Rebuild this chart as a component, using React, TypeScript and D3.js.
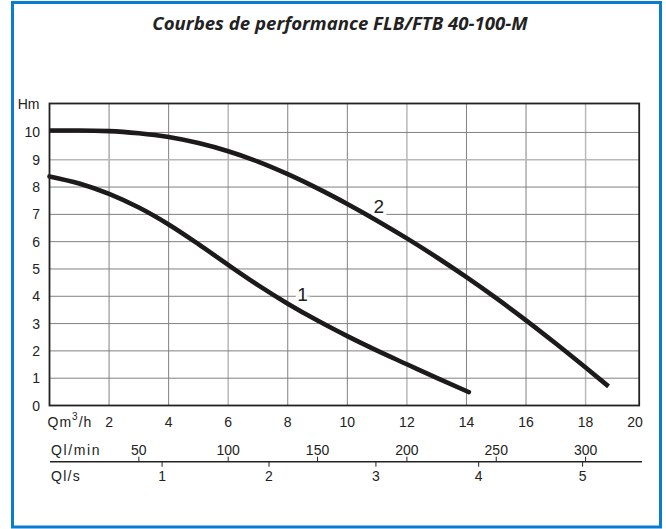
import React from "react";
import * as d3 from "d3";

// ---- data ----
const title = "Courbes de performance FLB/FTB 40-100-M";
const yTicks = [0, 1, 2, 3, 4, 5, 6, 7, 8, 9, 10];
const xTicks = [2, 4, 6, 8, 10, 12, 14, 16, 18];
const xGrid = [2, 4, 6, 8, 10, 12, 14, 16, 18];
const lightXGrid = [6, 12, 18];
const lightYGrid = [9];
const qlMinTicks = [50, 100, 150, 200, 250, 300];
const qlSecTicks = [1, 2, 3, 4, 5];
// positions (in m³/h) where the l/s ticks are drawn on the original sheet
const qlSecAtQ = [3.78, 7.37, 10.96, 14.41, 17.9];

const curve1Q = [0, 1, 2, 3, 4, 5, 6, 7, 8, 9, 10, 11, 12, 13, 14.08];
const curve1H = [8.39, 8.13, 7.75, 7.25, 6.63, 5.91, 5.15, 4.41, 3.73, 3.11, 2.54, 2.01, 1.51, 1.01, 0.49];
const curve2Q = [0, 1, 2, 3, 4, 5, 6, 7, 8, 9, 10, 11, 12, 13, 14, 15, 16, 17, 18, 18.77];
const curve2H = [10.07, 10.07, 10.05, 9.97, 9.83, 9.61, 9.31, 8.93, 8.47, 7.95, 7.38, 6.77, 6.12, 5.43, 4.7, 3.93, 3.12, 2.27, 1.39, 0.7];
const curveLabels = [
  { text: "1", q: 8.5, h: 4.09 },
  { text: "2", q: 11.06, h: 7.3 },
];

const W = 666;
const H = 529;

export default function App() {
  const x = d3.scaleLinear().domain([0, 19.8]).range([49.5, 639.2]);
  const y = d3.scaleLinear().domain([0, 11.06]).range([405.5, 103.5]);
  const line = d3
    .line<[number, number]>()
    .x((d) => x(d[0]))
    .y((d) => y(d[1]))
    .curve(d3.curveMonotoneX);
  const c1 = curve1Q.map((q, i) => [q, curve1H[i]] as [number, number]);
  const c2 = curve2Q.map((q, i) => [q, curve2H[i]] as [number, number]);

  const [x0, x1] = x.range();
  const [yb, yt] = y.range();
  const font = "'Liberation Sans', Arial, sans-serif";
  const row1Y = 422;
  const row2Y = 450;
  const axisLineY = 461.7;
  const row3Y = 476;

  return (
    <svg
      width={W}
      height={H}
      viewBox={`0 0 ${W} ${H}`}
      style={{ position: "absolute", left: 0, top: 0, background: "#fff" }}
    >
      <rect x={0} y={0} width={W} height={H} fill="#fff" />
      <rect x={12.5} y={2.5} width={648} height={524.5} fill="none" stroke="#0a7ccf" strokeWidth={3} />
      <text
        x={340}
        y={29.5}
        textAnchor="middle"
        fontFamily="'Open Sans', sans-serif"
        fontStyle="italic"
        fontWeight={700}
        fontSize={18.6}
        fill="#222"
      >
        {title}
      </text>

      {/* grid */}
      {xGrid.map((v) => (
        <line
          key={"gx" + v}
          x1={x(v)}
          x2={x(v)}
          y1={yt}
          y2={yb}
          stroke={lightXGrid.includes(v) ? "#b8b8b8" : "#808080"}
          strokeWidth={lightXGrid.includes(v) ? 1.5 : 1}
        />
      ))}
      {yTicks.slice(1).map((v) => (
        <line
          key={"gy" + v}
          x1={x0}
          x2={x1}
          y1={y(v)}
          y2={y(v)}
          stroke={lightYGrid.includes(v) ? "#b8b8b8" : "#808080"}
          strokeWidth={lightYGrid.includes(v) ? 1.5 : 1}
        />
      ))}

      {/* curve labels */}
      {curveLabels.map((l) => (
        <text
          key={"cl" + l.text}
          x={x(l.q)}
          y={y(l.h)}
          dy="0.36em"
          textAnchor="middle"
          fontFamily={font}
          fontSize={19}
          fill="#222"
          stroke="#fff"
          strokeWidth={6}
          style={{ paintOrder: "stroke" }}
        >
          {l.text}
        </text>
      ))}

      {/* curves */}
      <path d={line(c1) || ""} fill="none" stroke="#1c1a1a" strokeWidth={4.6} strokeLinecap="round" />
      <path d={line(c2) || ""} fill="none" stroke="#1c1a1a" strokeWidth={4.6} strokeLinecap="butt" />

      {/* frame */}
      <rect x={x0} y={yt} width={x1 - x0} height={yb - yt} fill="none" stroke="#222" strokeWidth={1.8} />

      {/* y axis labels */}
      {yTicks.map((v) => (
        <text
          key={"yl" + v}
          x={40}
          y={y(v)}
          dy="0.36em"
          textAnchor="end"
          fontFamily={font}
          fontSize={14}
          fill="#222"
        >
          {v}
        </text>
      ))}
      <text x={39.5} y={yt} dy="0.36em" textAnchor="end" fontFamily={font} fontSize={14} fill="#222">
        Hm
      </text>

      {/* x axis row 1 */}
      <text x={47.5} y={row1Y} dy="0.36em" fontFamily={font} fontSize={14} fill="#222" letterSpacing={1}>
        Qm
        <tspan fontSize={10} dy="-0.75em">3</tspan>
        <tspan dy="0.55em">/h</tspan>
      </text>
      {xTicks.map((v) => (
        <text
          key={"xl" + v}
          x={x(v)}
          y={row1Y}
          dy="0.36em"
          textAnchor="middle"
          fontFamily={font}
          fontSize={14}
          fill="#222"
        >
          {v}
        </text>
      ))}
      <text x={x(19.66)} y={row1Y} dy="0.36em" textAnchor="middle" fontFamily={font} fontSize={14} fill="#222">
        20
      </text>

      {/* row 2: l/min */}
      <text x={51} y={row2Y} dy="0.36em" fontFamily={font} fontSize={14} fill="#222" letterSpacing={1.6}>
        Ql/min
      </text>
      {qlMinTicks.map((v) => (
        <g key={"qm" + v}>
          <line x1={x(v * 0.06)} x2={x(v * 0.06)} y1={axisLineY - 5} y2={axisLineY} stroke="#222" strokeWidth={1} />
          <text
            x={x(v * 0.06)}
            y={row2Y}
            dy="0.36em"
            textAnchor="middle"
            fontFamily={font}
            fontSize={14}
            fill="#222"
          >
            {v}
          </text>
        </g>
      ))}
      <line x1={50} x2={642} y1={axisLineY} y2={axisLineY} stroke="#222" strokeWidth={1.6} />

      {/* row 3: l/s */}
      <text x={51} y={row3Y} dy="0.36em" fontFamily={font} fontSize={14} fill="#222" letterSpacing={1.3}>
        Ql/s
      </text>
      {qlSecTicks.map((v, i) => (
        <g key={"qs" + v}>
          <line
            x1={x(qlSecAtQ[i])}
            x2={x(qlSecAtQ[i])}
            y1={axisLineY}
            y2={axisLineY + 5}
            stroke="#222"
            strokeWidth={1}
          />
          <text
            x={x(qlSecAtQ[i])}
            y={row3Y}
            dy="0.36em"
            textAnchor="middle"
            fontFamily={font}
            fontSize={14}
            fill="#222"
          >
            {v}
          </text>
        </g>
      ))}
    </svg>
  );
}
